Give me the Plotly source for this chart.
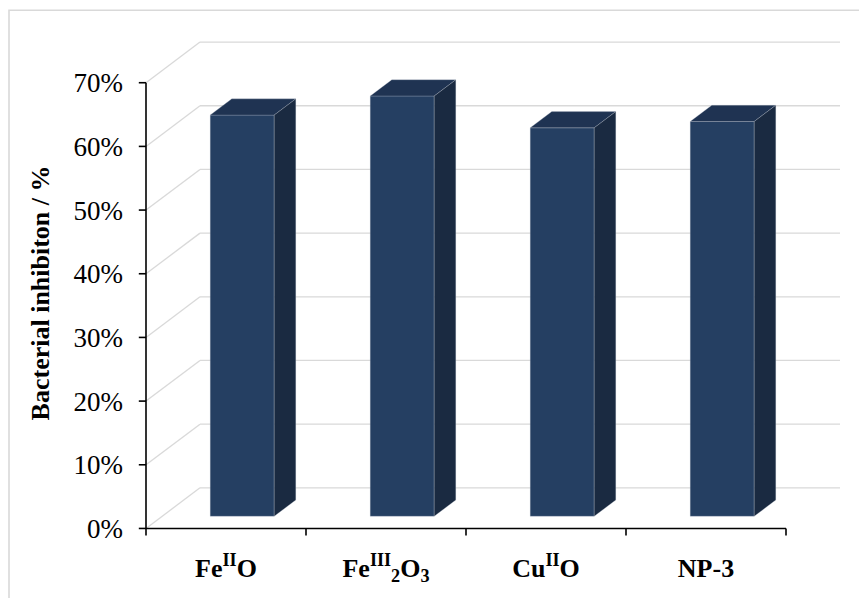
import plotly.graph_objects as go

# Bacterial inhibition of the nanoparticle samples (percent)
categories = ["Fe<sup>II</sup>O", "Fe<sup>III</sup><sub>2</sub>O<sub>3</sub>", "Cu<sup>II</sup>O", "NP-3"]
inhibition = [63, 66, 61, 62]
y_ticks = [0, 10, 20, 30, 40, 50, 60, 70]
y_tick_labels = ["0%", "10%", "20%", "30%", "40%", "50%", "60%", "70%"]

# Oblique "3-D" projection: depth of the floor in axis units
DX = 0.3375      # horizontal shift of the back wall (category units)
DY = 6.38        # vertical shift of the back wall (percent units)
BAR_W = 0.4      # bar width (category units)
D0, D1 = 0.3, 0.7  # bar front / back depth fractions

FRONT = "#253f62"
TOP = "#1f3352"
SIDE = "#1a2a41"
EDGE = "rgba(190,198,210,0.45)"
GRID = "#d9d9d9"
FONT = '"Liberation Serif", "Times New Roman", "DejaVu Serif", serif'

n = len(categories)
x_left, x_right = -0.5, n - 0.5
idx = list(range(n))

fig = go.Figure()

# Walls: back-wall gridlines and side-wall diagonals, kept behind the bars
shapes = []
for v in y_ticks:
    shapes.append(dict(type="line", xref="x", yref="y", x0=x_left, y0=v,
                       x1=x_left + DX, y1=v + DY, layer="below",
                       line=dict(color=GRID, width=1.3)))
    shapes.append(dict(type="line", xref="x", yref="y", x0=x_left + DX, y0=v + DY,
                       x1=x_right + DX, y1=v + DY, layer="below",
                       line=dict(color=GRID, width=1.3)))

# Outer chart border
shapes.append(dict(type="rect", xref="paper", yref="paper",
                   x0=(9 - 130) / 712, x1=(870 - 130) / 712,
                   y0=(543 - 610) / 513, y1=(543 - 10) / 513,
                   line=dict(color=GRID, width=1.6), fillcolor="rgba(0,0,0,0)", layer="below"))

# Front faces of the bars
fx = [i + D0 * DX for i in idx]
fig.add_trace(go.Bar(x=fx, y=inhibition, base=[D0 * DY] * n, width=BAR_W,
                     marker=dict(color=FRONT, line=dict(color=EDGE, width=0.6)),
                     showlegend=False, hoverinfo="skip"))

# Top and side faces, projected from each value
ddx, ddy = (D1 - D0) * DX, (D1 - D0) * DY
for i, v in zip(idx, inhibition):
    xl = i + D0 * DX - BAR_W / 2
    xr = i + D0 * DX + BAR_W / 2
    b = D0 * DY
    top_y = v + b
    fig.add_trace(go.Scatter(
        x=[xl, xl + ddx, xr + ddx, xr, xl],
        y=[top_y, top_y + ddy, top_y + ddy, top_y, top_y],
        mode="lines", fill="toself", fillcolor=TOP,
        line=dict(color=EDGE, width=0.6), hoverinfo="skip", showlegend=False))
    fig.add_trace(go.Scatter(
        x=[xr, xr, xr + ddx, xr + ddx, xr],
        y=[b, top_y, top_y + ddy, b + ddy, b],
        mode="lines", fill="toself", fillcolor=SIDE,
        line=dict(color=EDGE, width=0.6), hoverinfo="skip", showlegend=False))

# Axis lines and tick marks
tick_len_x = 0.045   # category units
tick_len_y = 1.1     # percent units
ax_x = [x_left, x_left, None, x_left, x_right, None]
ax_y = [0, y_ticks[-1], None, 0, 0, None]
for v in y_ticks:
    ax_x += [x_left - tick_len_x, x_left, None]
    ax_y += [v, v, None]
for k in range(n + 1):
    ax_x += [x_left + k, x_left + k, None]
    ax_y += [0, -tick_len_y, None]
fig.add_trace(go.Scatter(x=ax_x, y=ax_y, mode="lines", line=dict(color="black", width=1.6),
                         hoverinfo="skip", showlegend=False))

fig.update_layout(
    width=859, height=598,
    margin=dict(l=130, r=17, t=30, b=55),
    paper_bgcolor="white", plot_bgcolor="white",
    font=dict(family=FONT, color="black"),
    xaxis=dict(range=[-0.6, 3.85], tickvals=idx, ticktext=[f"<b>{c}</b>" for c in categories],
               showgrid=False, zeroline=False, showline=False, ticks="",
               tickfont=dict(family=FONT, size=26, color="black"), ticklabelstandoff=12),
    yaxis=dict(range=[-1.5, 78.28], tickvals=y_ticks, ticktext=y_tick_labels,
               showgrid=False, zeroline=False, showline=False, ticks="",
               tickfont=dict(family=FONT, size=27, color="black"), ticklabelstandoff=6),
    annotations=[dict(text="<b>Bacterial inhibiton / %</b>", textangle=-90,
                      xref="paper", yref="paper", x=(40 - 130) / 712, y=(543 - 296) / 513,
                      xanchor="center", yanchor="middle", showarrow=False,
                      font=dict(family=FONT, size=26, color="black"))],
    shapes=shapes,
)

fig.write_html("out.html")
